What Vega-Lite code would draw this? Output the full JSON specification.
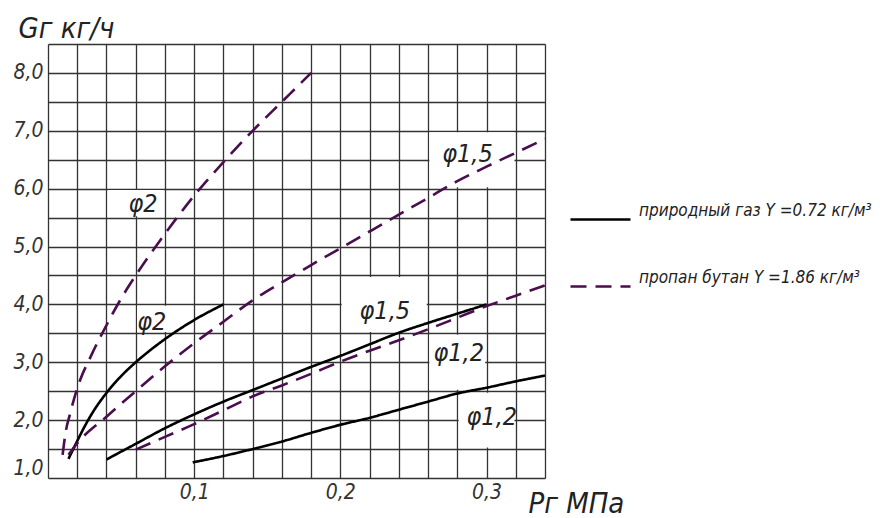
{
  "$schema": "https://vega.github.io/schema/vega-lite/v6.json",
  "width": 497,
  "height": 434,
  "autosize": {"type": "none"},
  "padding": {"left": 48, "top": 44, "right": 348, "bottom": 40},
  "background": "white",
  "config": {
    "view": {"stroke": null},
    "font": "Liberation Sans Narrow, DejaVu Sans Condensed, sans-serif"
  },
  "datasets": {
    "curves": [
      {"curve": "A", "gas": "пропан бутан Y =1.86 кг/м³", "x": 0.010, "y": 1.40},
      {"curve": "A", "gas": "пропан бутан Y =1.86 кг/м³", "x": 0.012, "y": 1.78},
      {"curve": "A", "gas": "пропан бутан Y =1.86 кг/м³", "x": 0.015, "y": 2.10},
      {"curve": "A", "gas": "пропан бутан Y =1.86 кг/м³", "x": 0.020, "y": 2.55},
      {"curve": "A", "gas": "пропан бутан Y =1.86 кг/м³", "x": 0.030, "y": 3.14},
      {"curve": "A", "gas": "пропан бутан Y =1.86 кг/м³", "x": 0.040, "y": 3.64},
      {"curve": "A", "gas": "пропан бутан Y =1.86 кг/м³", "x": 0.050, "y": 4.10},
      {"curve": "A", "gas": "пропан бутан Y =1.86 кг/м³", "x": 0.060, "y": 4.50},
      {"curve": "A", "gas": "пропан бутан Y =1.86 кг/м³", "x": 0.080, "y": 5.22},
      {"curve": "A", "gas": "пропан бутан Y =1.86 кг/м³", "x": 0.100, "y": 5.88},
      {"curve": "A", "gas": "пропан бутан Y =1.86 кг/м³", "x": 0.120, "y": 6.46},
      {"curve": "A", "gas": "пропан бутан Y =1.86 кг/м³", "x": 0.140, "y": 7.00},
      {"curve": "A", "gas": "пропан бутан Y =1.86 кг/м³", "x": 0.160, "y": 7.50},
      {"curve": "A", "gas": "пропан бутан Y =1.86 кг/м³", "x": 0.180, "y": 8.00},
      {"curve": "B", "gas": "природный газ Y =0.72 кг/м³", "x": 0.014, "y": 1.33},
      {"curve": "B", "gas": "природный газ Y =0.72 кг/м³", "x": 0.020, "y": 1.64},
      {"curve": "B", "gas": "природный газ Y =0.72 кг/м³", "x": 0.024, "y": 1.84},
      {"curve": "B", "gas": "природный газ Y =0.72 кг/м³", "x": 0.030, "y": 2.11},
      {"curve": "B", "gas": "природный газ Y =0.72 кг/м³", "x": 0.040, "y": 2.47},
      {"curve": "B", "gas": "природный газ Y =0.72 кг/м³", "x": 0.050, "y": 2.76},
      {"curve": "B", "gas": "природный газ Y =0.72 кг/м³", "x": 0.060, "y": 3.00},
      {"curve": "B", "gas": "природный газ Y =0.72 кг/м³", "x": 0.070, "y": 3.21},
      {"curve": "B", "gas": "природный газ Y =0.72 кг/м³", "x": 0.080, "y": 3.40},
      {"curve": "B", "gas": "природный газ Y =0.72 кг/м³", "x": 0.100, "y": 3.73},
      {"curve": "B", "gas": "природный газ Y =0.72 кг/м³", "x": 0.120, "y": 4.00},
      {"curve": "C", "gas": "пропан бутан Y =1.86 кг/м³", "x": 0.014, "y": 1.40},
      {"curve": "C", "gas": "пропан бутан Y =1.86 кг/м³", "x": 0.020, "y": 1.60},
      {"curve": "C", "gas": "пропан бутан Y =1.86 кг/м³", "x": 0.040, "y": 2.06},
      {"curve": "C", "gas": "пропан бутан Y =1.86 кг/м³", "x": 0.060, "y": 2.50},
      {"curve": "C", "gas": "пропан бутан Y =1.86 кг/м³", "x": 0.080, "y": 2.93},
      {"curve": "C", "gas": "пропан бутан Y =1.86 кг/м³", "x": 0.100, "y": 3.33},
      {"curve": "C", "gas": "пропан бутан Y =1.86 кг/м³", "x": 0.120, "y": 3.70},
      {"curve": "C", "gas": "пропан бутан Y =1.86 кг/м³", "x": 0.140, "y": 4.07},
      {"curve": "C", "gas": "пропан бутан Y =1.86 кг/м³", "x": 0.160, "y": 4.38},
      {"curve": "C", "gas": "пропан бутан Y =1.86 кг/м³", "x": 0.180, "y": 4.68},
      {"curve": "C", "gas": "пропан бутан Y =1.86 кг/м³", "x": 0.200, "y": 4.97},
      {"curve": "C", "gas": "пропан бутан Y =1.86 кг/м³", "x": 0.220, "y": 5.26},
      {"curve": "C", "gas": "пропан бутан Y =1.86 кг/м³", "x": 0.240, "y": 5.55},
      {"curve": "C", "gas": "пропан бутан Y =1.86 кг/м³", "x": 0.260, "y": 5.84},
      {"curve": "C", "gas": "пропан бутан Y =1.86 кг/м³", "x": 0.280, "y": 6.13},
      {"curve": "C", "gas": "пропан бутан Y =1.86 кг/м³", "x": 0.300, "y": 6.38},
      {"curve": "C", "gas": "пропан бутан Y =1.86 кг/м³", "x": 0.320, "y": 6.62},
      {"curve": "C", "gas": "пропан бутан Y =1.86 кг/м³", "x": 0.340, "y": 6.86},
      {"curve": "D", "gas": "природный газ Y =0.72 кг/м³", "x": 0.040, "y": 1.32},
      {"curve": "D", "gas": "природный газ Y =0.72 кг/м³", "x": 0.060, "y": 1.59},
      {"curve": "D", "gas": "природный газ Y =0.72 кг/м³", "x": 0.080, "y": 1.86},
      {"curve": "D", "gas": "природный газ Y =0.72 кг/м³", "x": 0.100, "y": 2.10},
      {"curve": "D", "gas": "природный газ Y =0.72 кг/м³", "x": 0.120, "y": 2.32},
      {"curve": "D", "gas": "природный газ Y =0.72 кг/м³", "x": 0.140, "y": 2.52},
      {"curve": "D", "gas": "природный газ Y =0.72 кг/м³", "x": 0.160, "y": 2.72},
      {"curve": "D", "gas": "природный газ Y =0.72 кг/м³", "x": 0.180, "y": 2.92},
      {"curve": "D", "gas": "природный газ Y =0.72 кг/м³", "x": 0.200, "y": 3.11},
      {"curve": "D", "gas": "природный газ Y =0.72 кг/м³", "x": 0.220, "y": 3.31},
      {"curve": "D", "gas": "природный газ Y =0.72 кг/м³", "x": 0.240, "y": 3.51},
      {"curve": "D", "gas": "природный газ Y =0.72 кг/м³", "x": 0.260, "y": 3.68},
      {"curve": "D", "gas": "природный газ Y =0.72 кг/м³", "x": 0.280, "y": 3.84},
      {"curve": "D", "gas": "природный газ Y =0.72 кг/м³", "x": 0.300, "y": 4.00},
      {"curve": "E", "gas": "пропан бутан Y =1.86 кг/м³", "x": 0.060, "y": 1.49},
      {"curve": "E", "gas": "пропан бутан Y =1.86 кг/м³", "x": 0.080, "y": 1.71},
      {"curve": "E", "gas": "пропан бутан Y =1.86 кг/м³", "x": 0.100, "y": 1.93},
      {"curve": "E", "gas": "пропан бутан Y =1.86 кг/м³", "x": 0.120, "y": 2.17},
      {"curve": "E", "gas": "пропан бутан Y =1.86 кг/м³", "x": 0.140, "y": 2.41},
      {"curve": "E", "gas": "пропан бутан Y =1.86 кг/м³", "x": 0.160, "y": 2.60},
      {"curve": "E", "gas": "пропан бутан Y =1.86 кг/м³", "x": 0.180, "y": 2.80},
      {"curve": "E", "gas": "пропан бутан Y =1.86 кг/м³", "x": 0.200, "y": 3.01},
      {"curve": "E", "gas": "пропан бутан Y =1.86 кг/м³", "x": 0.220, "y": 3.20},
      {"curve": "E", "gas": "пропан бутан Y =1.86 кг/м³", "x": 0.240, "y": 3.38},
      {"curve": "E", "gas": "пропан бутан Y =1.86 кг/м³", "x": 0.260, "y": 3.57},
      {"curve": "E", "gas": "пропан бутан Y =1.86 кг/м³", "x": 0.280, "y": 3.77},
      {"curve": "E", "gas": "пропан бутан Y =1.86 кг/м³", "x": 0.300, "y": 3.97},
      {"curve": "E", "gas": "пропан бутан Y =1.86 кг/м³", "x": 0.320, "y": 4.15},
      {"curve": "E", "gas": "пропан бутан Y =1.86 кг/м³", "x": 0.340, "y": 4.33},
      {"curve": "F", "gas": "природный газ Y =0.72 кг/м³", "x": 0.099, "y": 1.27},
      {"curve": "F", "gas": "природный газ Y =0.72 кг/м³", "x": 0.120, "y": 1.38},
      {"curve": "F", "gas": "природный газ Y =0.72 кг/м³", "x": 0.140, "y": 1.50},
      {"curve": "F", "gas": "природный газ Y =0.72 кг/м³", "x": 0.160, "y": 1.63},
      {"curve": "F", "gas": "природный газ Y =0.72 кг/м³", "x": 0.180, "y": 1.78},
      {"curve": "F", "gas": "природный газ Y =0.72 кг/м³", "x": 0.200, "y": 1.92},
      {"curve": "F", "gas": "природный газ Y =0.72 кг/м³", "x": 0.220, "y": 2.04},
      {"curve": "F", "gas": "природный газ Y =0.72 кг/м³", "x": 0.240, "y": 2.18},
      {"curve": "F", "gas": "природный газ Y =0.72 кг/м³", "x": 0.260, "y": 2.32},
      {"curve": "F", "gas": "природный газ Y =0.72 кг/м³", "x": 0.280, "y": 2.46},
      {"curve": "F", "gas": "природный газ Y =0.72 кг/м³", "x": 0.300, "y": 2.56},
      {"curve": "F", "gas": "природный газ Y =0.72 кг/м³", "x": 0.320, "y": 2.67},
      {"curve": "F", "gas": "природный газ Y =0.72 кг/м³", "x": 0.340, "y": 2.77}
    ],
    "boxes": [
      {"x": 0.0409, "x2": 0.0791, "y": 5.525, "y2": 5.975},
      {"x": 0.0609, "x2": 0.0991, "y": 3.525, "y2": 3.975},
      {"x": 0.2009, "x2": 0.2591, "y": 3.525, "y2": 4.475},
      {"x": 0.2609, "x2": 0.3191, "y": 6.025, "y2": 6.975},
      {"x": 0.2609, "x2": 0.2991, "y": 2.525, "y2": 3.475},
      {"x": 0.2809, "x2": 0.3191, "y": 1.525, "y2": 2.475}
    ],
    "labels": [
      {"label": "φ2", "x": 0.065, "y": 5.74},
      {"label": "φ2", "x": 0.071, "y": 3.70},
      {"label": "φ1,5", "x": 0.2304, "y": 3.88},
      {"label": "φ1,5", "x": 0.287, "y": 6.60},
      {"label": "φ1,2", "x": 0.281, "y": 3.16},
      {"label": "φ1,2", "x": 0.3036, "y": 2.06}
    ]
  },
  "encoding": {
    "x": {
      "field": "x", "type": "quantitative",
      "scale": {"domain": [0, 0.34], "nice": false, "zero": false},
      "axis": {
        "values": [0, 0.02, 0.04, 0.06, 0.08, 0.1, 0.12, 0.14, 0.16, 0.18, 0.2, 0.22, 0.24, 0.26, 0.28, 0.3, 0.32, 0.34],
        "labelExpr": "abs(datum.value*10 - round(datum.value*10)) < 0.000001 && datum.value > 0.05 && datum.value < 0.33 ? replace(format(datum.value, '.1f'), '.', ',') : ''",
        "grid": true, "gridColor": "#333333", "gridWidth": 1.3, "gridOpacity": 1,
        "domain": false, "ticks": false,
        "labelFontSize": 21, "labelFontStyle": "italic", "labelColor": "#333333",
        "labelPadding": 3, "labelOverlap": false, "labelBound": false,
        "title": "Pг МПа", "titleX": 480, "titleY": 34, "titleAlign": "left",
        "titleBaseline": "alphabetic", "titleAngle": 0, "titleFontSize": 29,
        "titleFontStyle": "italic", "titleFontWeight": "normal", "titleColor": "#222222"
      }
    },
    "y": {
      "field": "y", "type": "quantitative",
      "scale": {"domain": [1, 8.5], "nice": false, "zero": false},
      "axis": {
        "values": [1, 1.5, 2, 2.5, 3, 3.5, 4, 4.5, 5, 5.5, 6, 6.5, 7, 7.5, 8, 8.5],
        "labelExpr": "datum.value % 1 === 0 && datum.value < 8.5 ? replace(format(datum.value, '.1f'), '.', ',') : ''",
        "grid": true, "gridColor": "#333333", "gridWidth": 1.3, "gridOpacity": 1,
        "domain": false, "ticks": false,
        "labelFontSize": 21, "labelFontStyle": "italic", "labelColor": "#333333",
        "labelPadding": 5, "labelOverlap": false, "labelBound": false, "labelFlush": true,
        "title": "Gг кг/ч", "titleX": -30, "titleY": -7, "titleAlign": "left",
        "titleBaseline": "alphabetic", "titleAngle": 0, "titleFontSize": 29,
        "titleFontStyle": "italic", "titleFontWeight": "normal", "titleColor": "#222222"
      }
    }
  },
  "layer": [
    {
      "data": {"name": "boxes"},
      "mark": {"type": "rect", "fill": "white"},
      "encoding": {
        "x2": {"field": "x2"},
        "y2": {"field": "y2"}
      }
    },
    {
      "data": {"name": "curves"},
      "mark": {"type": "line", "interpolate": "monotone", "strokeWidth": 2.6, "clip": false},
      "encoding": {
        "detail": {"field": "curve"},
        "color": {
          "field": "gas", "type": "nominal",
          "scale": {"domain": ["природный газ Y =0.72 кг/м³", "пропан бутан Y =1.86 кг/м³"], "range": ["#000000", "#4A0D4E"]},
          "legend": {
            "orient": "none", "legendX": 521, "legendY": 144, "title": null,
            "symbolType": "stroke", "symbolSize": 3600, "symbolStrokeWidth": 2.6,
            "labelFontSize": 17, "labelFontStyle": "italic", "labelColor": "#222222",
            "labelOffset": 7, "labelLimit": 400, "rowPadding": 30, "padding": 0,
            "labelBaseline": "bottom"
          }
        },
        "strokeDash": {
          "field": "gas", "type": "nominal",
          "scale": {"domain": ["природный газ Y =0.72 кг/м³", "пропан бутан Y =1.86 кг/м³"], "range": [[1, 0], [16, 9]]}
        }
      }
    },
    {
      "data": {"name": "labels"},
      "mark": {"type": "text", "fontSize": 25, "fontStyle": "italic", "color": "#222222", "baseline": "middle", "align": "center"},
      "encoding": {
        "text": {"field": "label"}
      }
    }
  ]
}
